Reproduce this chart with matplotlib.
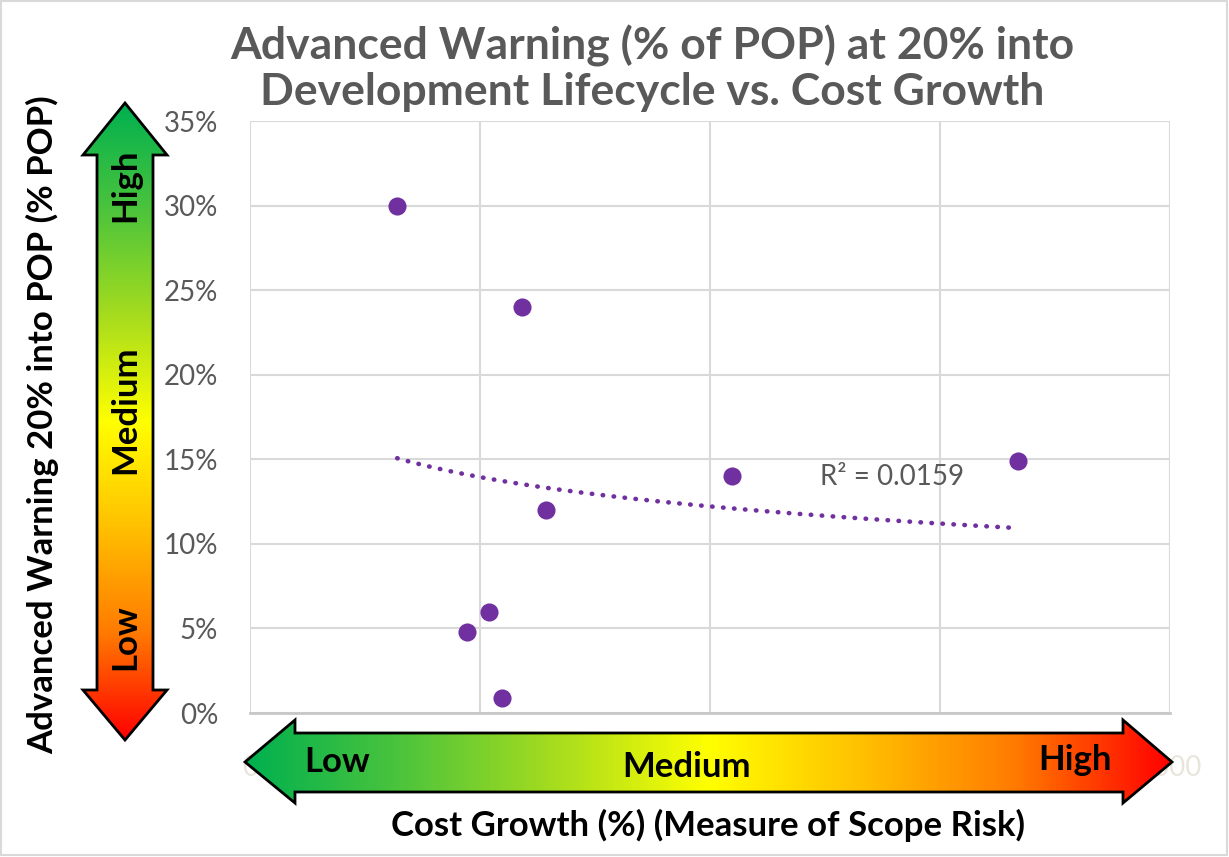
import numpy as np
import matplotlib.pyplot as plt
from matplotlib.patches import Polygon
from matplotlib.colors import LinearSegmentedColormap

# data
cost_growth = [320, 591, 643, 472, 520, 548, 1048, 1670]
warning = [0.30, 0.24, 0.12, 0.048, 0.06, 0.009, 0.14, 0.149]
x_ticks = [0, 500, 1000, 1500, 2000]
x_tick_labels = ["0", "", "", "", "2000"]  # the middle ones sit under the arrow
y_ticks = [0, 0.05, 0.10, 0.15, 0.20, 0.25, 0.30, 0.35]
r2_text = "R² = 0.0159"

W, H = 1229, 857
plt.rcParams['font.family'] = ['Lato', 'DejaVu Sans']
fig = plt.figure(figsize=(W / 100, H / 100), dpi=100)

# plot area in pixels: left 250, right 1170, top 121, bottom 713
ax = fig.add_axes([250 / W, (H - 713) / H, 920 / W, (713 - 121) / H])
ax.scatter(cost_growth, warning, s=170, color='#7030a0', zorder=3, linewidths=0)

# logarithmic trendline
lx = np.log(cost_growth)
b, a = np.polyfit(lx, warning, 1)
xs = np.linspace(min(cost_growth), max(cost_growth), 200)
ax.plot(xs, a + b * np.log(xs), color='#7030a0', lw=3.3,
        linestyle=(0, (0.1, 2.3)), dash_capstyle='round', zorder=2)
ax.text(1395, 0.1395, r2_text, color='#595959', fontsize=20, ha='center', va='center')

ax.set_xlim(0, 2000)
ax.set_ylim(0, 0.35)
ax.set_xticks(x_ticks)
ax.set_xticklabels(x_tick_labels)
ax.set_yticks(y_ticks)
ax.set_yticklabels([f"{v:.0%}" for v in y_ticks])
ax.tick_params(axis='y', colors='#595959', labelsize=20, length=0, pad=23)
ax.tick_params(axis='x', colors='#e8e6dc', labelsize=20, length=0, pad=30)
ax.grid(True, color='#d9d9d9', lw=1.5)
ax.set_axisbelow(True)
for s in ax.spines.values():
    s.set_visible(False)
ax.spines['bottom'].set_visible(True)
ax.spines['bottom'].set_color('#c8c8c8')
ax.spines['bottom'].set_linewidth(2)

# overlay in pixel coords for the arrows and labels
ov = fig.add_axes([0, 0, 1, 1], zorder=5)
ov.set_xlim(0, W)
ov.set_ylim(H, 0)
ov.axis('off')
ov.patch.set_alpha(0)

cmap = LinearSegmentedColormap.from_list(
    'rag', ['#00b050', '#4cc43c', '#a6dc1e', '#ffff00', '#ffc000', '#ff7a00', '#ff0000'])

# vertical double arrow
vpts = [(125, 103), (167, 155), (153, 155), (153, 690), (167, 690), (125, 740),
        (83, 690), (97, 690), (97, 155), (83, 155)]
vpoly = Polygon(vpts, closed=True, fc='none', ec='black', lw=2, zorder=3)
ov.add_patch(vpoly)
grad = np.linspace(0, 1, 256).reshape(-1, 1)
im = ov.imshow(grad, cmap=cmap, extent=(83, 167, 740, 103), aspect='auto', zorder=2)
im.set_clip_path(vpoly)
lab = dict(ha='center', va='center', fontsize=25, fontweight='bold')
ov.text(125, 185, "High", rotation=90, **lab)
ov.text(125, 410, "Medium", rotation=90, **lab)
ov.text(125, 637, "Low", rotation=90, **lab)

# horizontal double arrow
hpts = [(245, 762), (295, 720), (295, 733), (1123, 733), (1123, 720), (1172, 762),
        (1123, 803), (1123, 792), (295, 792), (295, 803)]
hpoly = Polygon(hpts, closed=True, fc='none', ec='black', lw=2, zorder=3)
ov.add_patch(hpoly)
grad_h = np.linspace(0, 1, 256).reshape(1, -1)
im2 = ov.imshow(grad_h, cmap=cmap, extent=(245, 1172, 803, 720), aspect='auto', zorder=2)
im2.set_clip_path(hpoly)
ov.text(337, 762, "Low", **lab)
ov.text(687, 767, "Medium", **lab)
ov.text(1075, 760, "High", **lab)

# titles and axis labels
ov.text(652, 68, "Advanced Warning (% of POP) at 20% into\nDevelopment Lifecycle vs. Cost Growth",
        ha='center', va='center', fontsize=32, fontweight='bold', color='#595959', linespacing=1.15)
ov.text(43, 425, "Advanced Warning 20% into POP (% POP)", rotation=90, ha='center', va='center',
        fontsize=25, fontweight='bold')
ov.text(708, 825, "Cost Growth (%) (Measure of Scope Risk)", ha='center', va='center',
        fontsize=25, fontweight='bold')

# outer frame
ov.add_patch(plt.Rectangle((1, 1), W - 3, H - 3, fill=False, ec='#d9d9d9', lw=1.5))

fig.savefig('out.png', dpi=100)
